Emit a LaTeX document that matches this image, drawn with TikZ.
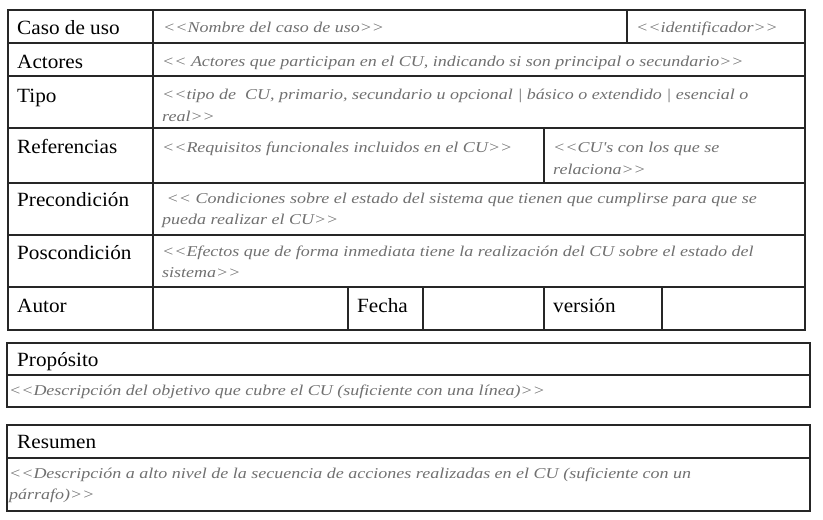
\documentclass[tikz,border=0pt]{standalone}
\usepackage{fontspec}
\setmainfont{Liberation Serif}
\newfontfamily\lblfont[FakeStretch=1.05]{Liberation Serif}
\newfontfamily\hntfont[FakeStretch=1.2,ItalicFeatures={FakeStretch=1.2}]{Liberation Serif}
\definecolor{linec}{HTML}{262626}
\definecolor{hint}{HTML}{707070}
\begin{document}
\begin{tikzpicture}[x=1pt,y=-1pt,
  lbl/.style={anchor=base west,inner sep=0pt,font=\lblfont\fontsize{20.2}{24}\selectfont,text=black},
  hnt/.style={anchor=base west,inner sep=0pt,font=\hntfont\fontsize{15}{19}\selectfont\itshape,text=hint},
  rule/.style={draw=linec,line width=1.3pt}]
\useasboundingbox (0,0) rectangle (823,520);
% table frame
\draw[rule] (8,10) rectangle (805,330);
\foreach \yy in {43,76,128,183,235,287} \draw[rule] (8,\yy) -- (805,\yy);
\draw[rule] (153,10) -- (153,330);
\draw[rule] (627,10) -- (627,43);
\draw[rule] (544,128) -- (544,183);
\foreach \xx in {348,423,544,662} \draw[rule] (\xx,287) -- (\xx,330);
% lower boxes
\draw[rule] (7,343) rectangle (810,407);
\draw[rule] (7,375) -- (810,375);
\draw[rule] (7,425) rectangle (810,511);
\draw[rule] (7,458) -- (810,458);
% labels
\node[lbl] (l1) at (17,34.5) {Caso de uso};
\node[lbl] (l2) at (17,68) {Actores};
\node[lbl] (l3) at (17,102) {Tipo};
\node[lbl] (l4) at (17,153) {Referencias};
\node[lbl] (l5) at (17,206) {Precondición};
\node[lbl] (l6) at (17,259) {Poscondición};
\node[lbl] (l7) at (17,312) {Autor};
\node[lbl] (l8) at (357,312) {Fecha};
\node[lbl] (l9) at (553,312) {versión};
\node[lbl] (l10) at (17,366) {Propósito};
\node[lbl] (l11) at (17,448) {Resumen};
% hints
\node[hnt] (h1) at (163,32.3) {<{}<Nombre del caso de uso>{}>};
\node[hnt] (h2) at (636,32.3) {<{}<identificador>{}>};
\node[hnt] (h3) at (162,66) {<{}< Actores que participan en el CU, indicando si son principal o secundario>{}>};
\node[hnt] (h4a) at (162,99) {<{}<tipo de\ \ CU, primario, secundario u opcional | básico o extendido | esencial o};
\node[hnt] (h4b) at (162,121) {real>{}>};
\node[hnt] (h5) at (162,152) {<{}<Requisitos funcionales incluidos en el CU>{}>};
\node[hnt] (h6a) at (553,152) {<{}<CU's con los que se};
\node[hnt] (h6b) at (553,174) {relaciona>{}>};
\node[hnt] (h7a) at (162,203) {\ <{}< Condiciones sobre el estado del sistema que tienen que cumplirse para que se};
\node[hnt] (h7b) at (162,224) {pueda realizar el CU>{}>};
\node[hnt] (h8a) at (162,256) {<{}<Efectos que de forma inmediata tiene la realización del CU sobre el estado del};
\node[hnt] (h8b) at (162,277) {sistema>{}>};
\node[hnt] (h9) at (9,395) {<{}<Descripción del objetivo que cubre el CU (suficiente con una línea)>{}>};
\node[hnt] (h10a) at (9,478) {<{}<Descripción a alto nivel de la secuencia de acciones realizadas en el CU (suficiente con un};
\node[hnt] (h10b) at (9,499) {párrafo)>{}>};
\end{tikzpicture}
\end{document}
